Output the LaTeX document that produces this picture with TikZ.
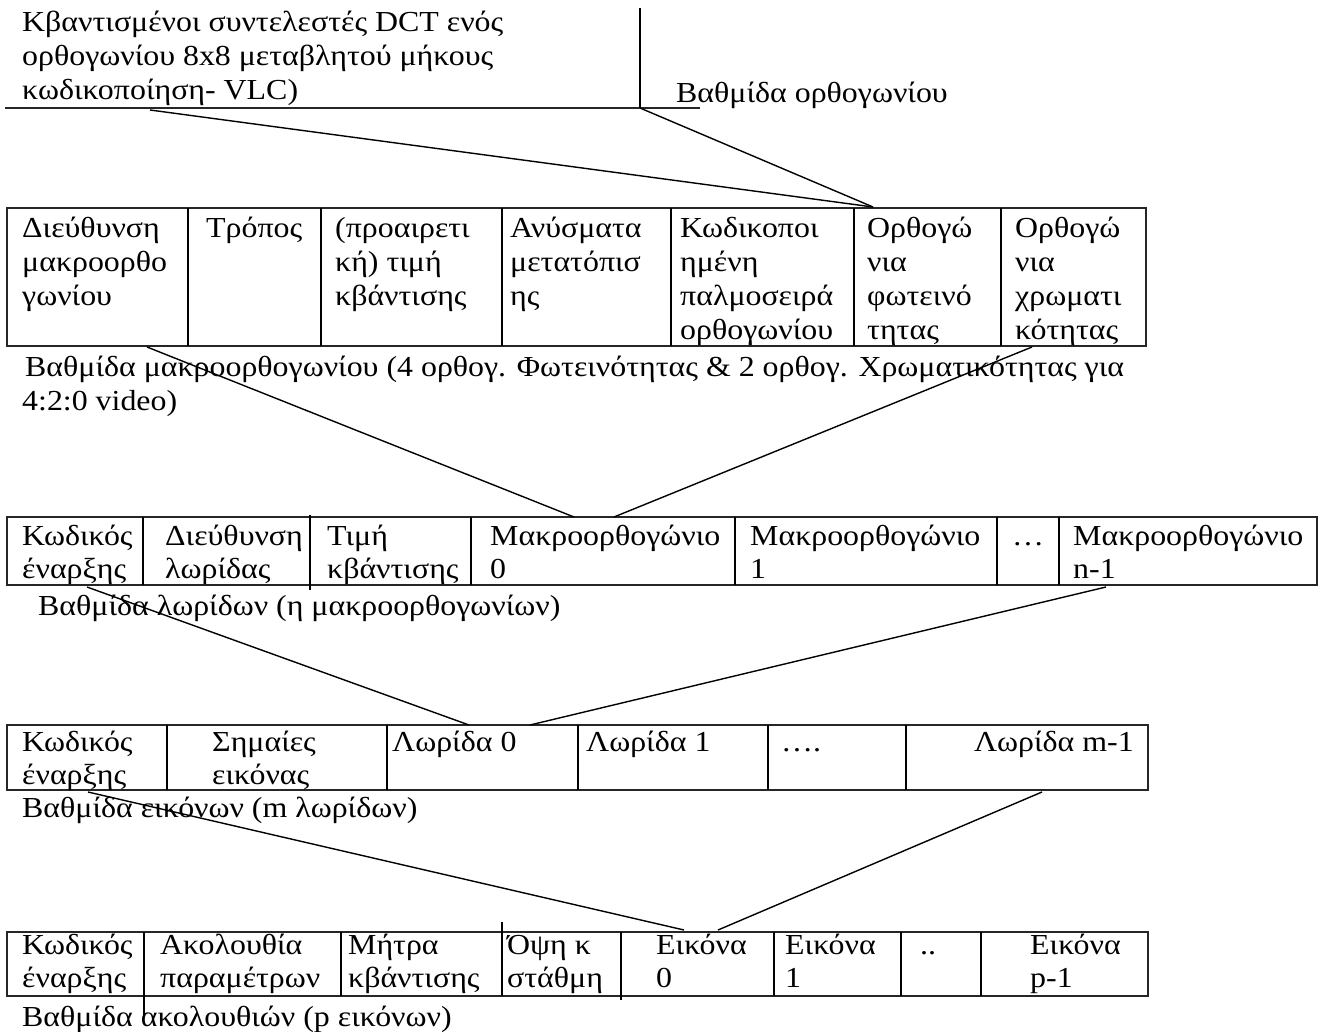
\documentclass[tikz,border=0pt]{standalone}
\usepackage{fontspec}
\setmainfont[FakeStretch=1.1]{Liberation Serif}
\begin{document}
\begin{tikzpicture}[x=1pt,y=-1pt,
  txt/.style={anchor=north west, inner sep=0pt, align=left, font=\fontsize{29}{34}\selectfont},
  txtb/.style={anchor=north west, inner sep=0pt, align=left, font=\fontsize{29}{33}\selectfont},
  frame/.style={draw=black!85, line width=2pt},
  sep/.style={draw=black, line width=1.3pt},
  link/.style={draw=black, line width=1.4pt}]
\useasboundingbox (0,0) rectangle (1323,1032);

% ---- block level: quantised DCT coefficients of one 8x8 block
\node[txt] (blk) at (22,7.2) {\strut Κβαντισμένοι συντελεστές DCT ενός\\ορθογωνίου 8x8 μεταβλητού μήκους\\κωδικοποίηση- VLC)};
\node[txt] (blklbl) at (676,78.2) {\strut Βαθμίδα ορθογωνίου};
\coordinate (hL) at (5,108);
\coordinate (hR) at (700,108);
\coordinate (vT) at (640,8);
\coordinate (vB) at (640,108);
\draw[frame] (hL) -- (hR);
\draw[sep] (vT) -- (vB);

% ---- macroblock level
\coordinate (m1) at (7,208);
\coordinate (m2) at (1146,346);
\draw[frame] (m1) rectangle (m2);
\foreach \x in {188,321,502,671,854,1001} \draw[sep] (\x,208) -- (\x,346);
\node[txt] (c11) at (22,213.2) {\strut Διεύθυνση\\μακροορθο\\γωνίου};
\node[txt] (c12) at (206,213.2) {\strut Τρόπος};
\node[txt] (c13) at (335,213.2) {\strut (προαιρετι\\κή) τιμή\\κβάντισης};
\node[txt] (c14) at (510,213.2) {\strut Ανύσματα\\μετατόπισ\\ης};
\node[txt] (c15) at (680,213.2) {\strut Κωδικοποι\\ημένη\\παλμοσειρά\\ορθογωνίου};
\node[txt] (c16) at (867,213.2) {\strut Ορθογώ\\νια\\φωτεινό\\τητας};
\node[txt] (c17) at (1015,213.2) {\strut Ορθογώ\\νια\\χρωματι\\κότητας};
\node[txt] (mblbl) at (25,352.2) {\strut Βαθμίδα μακροορθογωνίου (4 ορθογ. Φωτεινότητας \& 2 ορθογ. Χρωματικότητας για\\\hspace*{-3pt}4:2:0 video)};

% block level expands the luminance block field
\coordinate (bA) at (150,110);
\coordinate (bT) at (873,207);
\draw[link] (bA) -- (bT);
\draw[link] (vB) -- (bT);

% ---- slice level
\coordinate (s1) at (7,517);
\coordinate (s2) at (1317,585);
\draw[frame] (s1) rectangle (s2);
\foreach \x in {143,471,735,997,1059} \draw[sep] (\x,517) -- (\x,585);
\draw[sep] (310,515) -- (310,590);
\node[txtb] (c21) at (22,521.9) {\strut Κωδικός\\έναρξης};
\node[txtb] (c22) at (165,521.9) {\strut Διεύθυνση\\λωρίδας};
\node[txtb] (c23) at (327,521.9) {\strut Τιμή\\κβάντισης};
\node[txtb] (c24) at (490,521.9) {\strut Μακροορθογώνιο\\0};
\node[txtb] (c25) at (750,521.9) {\strut Μακροορθογώνιο\\1};
\node[txtb, anchor=north] (c26) at (1028,521.9) {\strut …};
\node[txtb] (c27) at (1073,521.9) {\strut Μακροορθογώνιο\\n-1};
\node[txt] (sllbl) at (38,591.2) {\strut Βαθμίδα λωρίδων (η μακροορθογωνίων)};

% macroblock level expands macroblock 0
\coordinate (mA) at (147,347);
\coordinate (mB) at (1032,347);
\coordinate (mT1) at (574,517);
\coordinate (mT2) at (614,517);
\draw[link] (mA) -- (mT1);
\draw[link] (mB) -- (mT2);

% ---- picture level
\coordinate (p1) at (7,725);
\coordinate (p2) at (1148,790);
\draw[frame] (p1) rectangle (p2);
\foreach \x in {167,387,578,768,906} \draw[sep] (\x,725) -- (\x,790);
\node[txtb] (c31) at (22,727.9) {\strut Κωδικός\\έναρξης};
\node[txtb] (c32) at (212,727.9) {\strut Σημαίες\\εικόνας};
\node[txtb] (c33) at (392,727.9) {\strut Λωρίδα 0};
\node[txtb] (c34) at (586,727.9) {\strut Λωρίδα 1};
\node[txtb] (c35) at (781,727.9) {\strut ….};
\node[txtb, anchor=north east, align=right] (c36) at (1134,727.9) {\strut Λωρίδα m-1};
\node[txt] (pclbl) at (22,793.2) {\strut Βαθμίδα εικόνων (m λωρίδων)};

% slice level expands slice 0
\coordinate (sA) at (87,587);
\coordinate (sB) at (1106,587);
\coordinate (sT1) at (469,725);
\coordinate (sT2) at (530,725);
\draw[link] (sA) -- (sT1);
\draw[link] (sB) -- (sT2);

% ---- sequence level
\coordinate (q1) at (7,932);
\coordinate (q2) at (1148,996);
\draw[frame] (q1) rectangle (q2);
\foreach \x in {341,774,901,981} \draw[sep] (\x,932) -- (\x,996);
\draw[sep] (144,932) -- (144,1017);
\draw[sep] (502,922) -- (502,996);
\draw[sep] (621,932) -- (621,1000);
\node[txtb] (c41) at (22,930.9) {\strut Κωδικός\\έναρξης};
\node[txtb] (c42) at (160,930.9) {\strut Ακολουθία\\παραμέτρων};
\node[txtb] (c43) at (348,930.9) {\strut Μήτρα\\κβάντισης};
\node[txtb] (c44) at (507,930.9) {\strut Όψη κ\\στάθμη};
\node[txtb] (c45) at (656,930.9) {\strut Εικόνα\\0};
\node[txtb] (c46) at (785,930.9) {\strut Εικόνα\\1};
\node[txtb] (c47) at (920,930.9) {\strut ..};
\node[txtb] (c48) at (1030,930.9) {\strut Εικόνα\\p-1};
\node[txt] (sqlbl) at (22,1002.2) {\strut Βαθμίδα ακολουθιών (p εικόνων)};

% picture level expands picture 0
\coordinate (pA) at (88,792);
\coordinate (pB) at (1042,792);
\coordinate (pT1) at (684,930);
\coordinate (pT2) at (718,930);
\draw[link] (pA) -- (pT1);
\draw[link] (pB) -- (pT2);
\end{tikzpicture}
\end{document}
